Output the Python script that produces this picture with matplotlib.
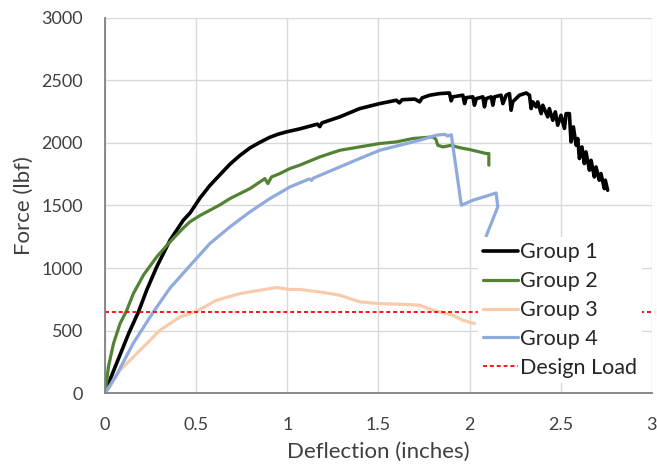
import matplotlib
matplotlib.use("Agg")
import matplotlib.pyplot as plt
import matplotlib.ticker as mticker

plt.rcParams["font.family"] = ["Lato", "DejaVu Sans"]

TEXT = "#404040"
GRID = "#d9d9d9"
AXIS = "#808080"

# ── Daten ──────────────────────────────────────────────────────────
g1_x = [0, 0.030, 0.080, 0.130, 0.183, 0.228, 0.283, 0.356, 0.429, 0.466, 0.521,
        0.575, 0.630, 0.685, 0.740, 0.795, 0.850, 0.904, 0.950, 0.995, 1.068,
        1.165, 1.178, 1.190, 1.288, 1.397, 1.507, 1.598, 1.615, 1.630,
        1.700, 1.726, 1.740, 1.781, 1.836, 1.890, 1.899, 1.908, 1.963, 1.973, 1.982,
        2.018, 2.027, 2.037, 2.073, 2.082, 2.091, 2.119, 2.128, 2.137, 2.173, 2.183,
        2.201, 2.219, 2.228, 2.237, 2.274, 2.311, 2.329, 2.338, 2.347, 2.365, 2.374,
        2.393, 2.402, 2.429, 2.438, 2.457, 2.471, 2.484, 2.502, 2.521, 2.530, 2.548,
        2.557, 2.570, 2.585, 2.594, 2.603, 2.617, 2.630, 2.639, 2.658, 2.667, 2.685,
        2.694, 2.712, 2.721, 2.740, 2.745, 2.758]
g1_y = [0, 120, 300, 480, 650, 823, 1009, 1222, 1382, 1440, 1560,
        1660, 1745, 1830, 1900, 1960, 2005, 2045, 2070, 2088, 2112,
        2150, 2130, 2160, 2208, 2274, 2314, 2341, 2320, 2345,
        2350, 2328, 2360, 2381, 2394, 2399, 2336, 2368, 2381, 2314, 2362,
        2368, 2301, 2354, 2368, 2288, 2354, 2368, 2301, 2368, 2381, 2314,
        2381, 2394, 2261, 2328, 2381, 2399, 2381, 2274, 2328, 2288, 2328,
        2234, 2301, 2208, 2274, 2181, 2248, 2141, 2221, 2115, 2234, 2234,
        2008, 2128, 1981, 2035, 1875, 1968, 1835, 1928, 1782, 1861, 1728,
        1808, 1702, 1755, 1635, 1702, 1622]

g2_x = [0, 0.018, 0.046, 0.082, 0.119, 0.155, 0.210, 0.283, 0.356, 0.429, 0.466,
        0.521, 0.575, 0.630, 0.685, 0.740, 0.795, 0.877, 0.893, 0.913, 0.959,
        1.014, 1.068, 1.178, 1.288, 1.397, 1.507, 1.598, 1.689,
        1.799, 1.815, 1.826, 1.854, 1.900, 1.945, 2.000, 2.055, 2.091, 2.106, 2.106]
g2_y = [0, 210, 397, 557, 663, 796, 943, 1089, 1209, 1320, 1370,
        1420, 1462, 1505, 1555, 1595, 1635, 1715, 1675, 1728, 1755,
        1795, 1822, 1888, 1941, 1968, 1995, 2008, 2035,
        2048, 2030, 1981, 1968, 1981, 1962, 1947, 1928, 1915, 1915, 1822]

g3_x = [0, 0.030, 0.082, 0.192, 0.301, 0.411, 0.502, 0.612, 0.740, 0.849, 0.941,
        1.014, 1.068, 1.178, 1.288, 1.397, 1.507, 1.616, 1.726, 1.799, 1.909,
        1.963, 2.027]
g3_y = [0, 60, 184, 344, 503, 610, 655, 743, 796, 823, 844,
        829, 829, 809, 783, 730, 716, 711, 703, 663, 623,
        583, 557]

g4_x = [0, 0.064, 0.155, 0.265, 0.356, 0.466, 0.575, 0.685, 0.795, 0.904, 1.014,
        1.120, 1.133, 1.142, 1.288, 1.397, 1.507, 1.616, 1.726, 1.817, 1.863, 1.880,
        1.900, 1.955, 2.018, 2.091, 2.146, 2.155, 2.091]
g4_y = [0, 150, 400, 650, 840, 1020, 1196, 1329, 1449, 1555, 1648,
        1712, 1700, 1718, 1808, 1875, 1941, 1981, 2021, 2061, 2069, 2055,
        2065, 1502, 1542, 1574, 1600, 1489, 1254]

design_x = [0, 3]
design_y = [650, 650]

series = [
    (g1_x, g1_y, "Group 1", "#000000", 2.6),
    (g2_x, g2_y, "Group 2", "#548235", 2.3),
    (g3_x, g3_y, "Group 3", "#f8cbad", 2.3),
    (g4_x, g4_y, "Group 4", "#8faadc", 2.3),
]

fig = plt.figure(figsize=(6.57, 4.67), dpi=100)
fig.patch.set_facecolor("white")
ax = fig.add_axes([0.160, 0.158, 0.832, 0.804])

for xs, ys, label, color, lw in series:
    ax.plot(xs, ys, color=color, linewidth=lw, label=label,
            solid_joinstyle="round", solid_capstyle="round")
ax.plot(design_x, design_y, color="#ff0000", linewidth=1.3,
        linestyle=(0, (2.2, 1.6)), label="Design Load")

ax.set_xlim(0, 3)
ax.set_ylim(0, 3000)
ax.xaxis.set_major_locator(mticker.MultipleLocator(0.5))
ax.yaxis.set_major_locator(mticker.MultipleLocator(500))
ax.xaxis.set_major_formatter(mticker.FuncFormatter(lambda v, _: f"{v:g}"))

ax.grid(True, color=GRID, linewidth=1.0)
ax.set_axisbelow(True)
for sp in ["top", "right"]:
    ax.spines[sp].set_visible(False)
for sp in ["left", "bottom"]:
    ax.spines[sp].set_color(AXIS)
    ax.spines[sp].set_linewidth(1.3)
ax.tick_params(length=0, labelsize=13, colors=TEXT)
ax.tick_params(axis="x", pad=17)
ax.tick_params(axis="y", pad=16)

ax.set_xlabel("Deflection (inches)", fontsize=16, color=TEXT)
ax.set_ylabel("Force (lbf)", fontsize=16, color=TEXT)
ax.xaxis.set_label_coords(0.5, -0.157)
ax.yaxis.set_label_coords(-0.148, 0.5)
ax.xaxis.label.set_va("center")
ax.yaxis.label.set_va("center")

leg = ax.legend(loc="upper left", bbox_to_anchor=(0.6813, 0.4163), fontsize=15.5,
                frameon=True, fancybox=False, facecolor="white", edgecolor="none",
                framealpha=1.0, handlelength=1.63, handletextpad=0.08,
                labelspacing=0.413, borderaxespad=0.0, borderpad=0.25)
for t in leg.get_texts():
    t.set_color("#262626")

fig.savefig("out.png", dpi=100, facecolor="white")
